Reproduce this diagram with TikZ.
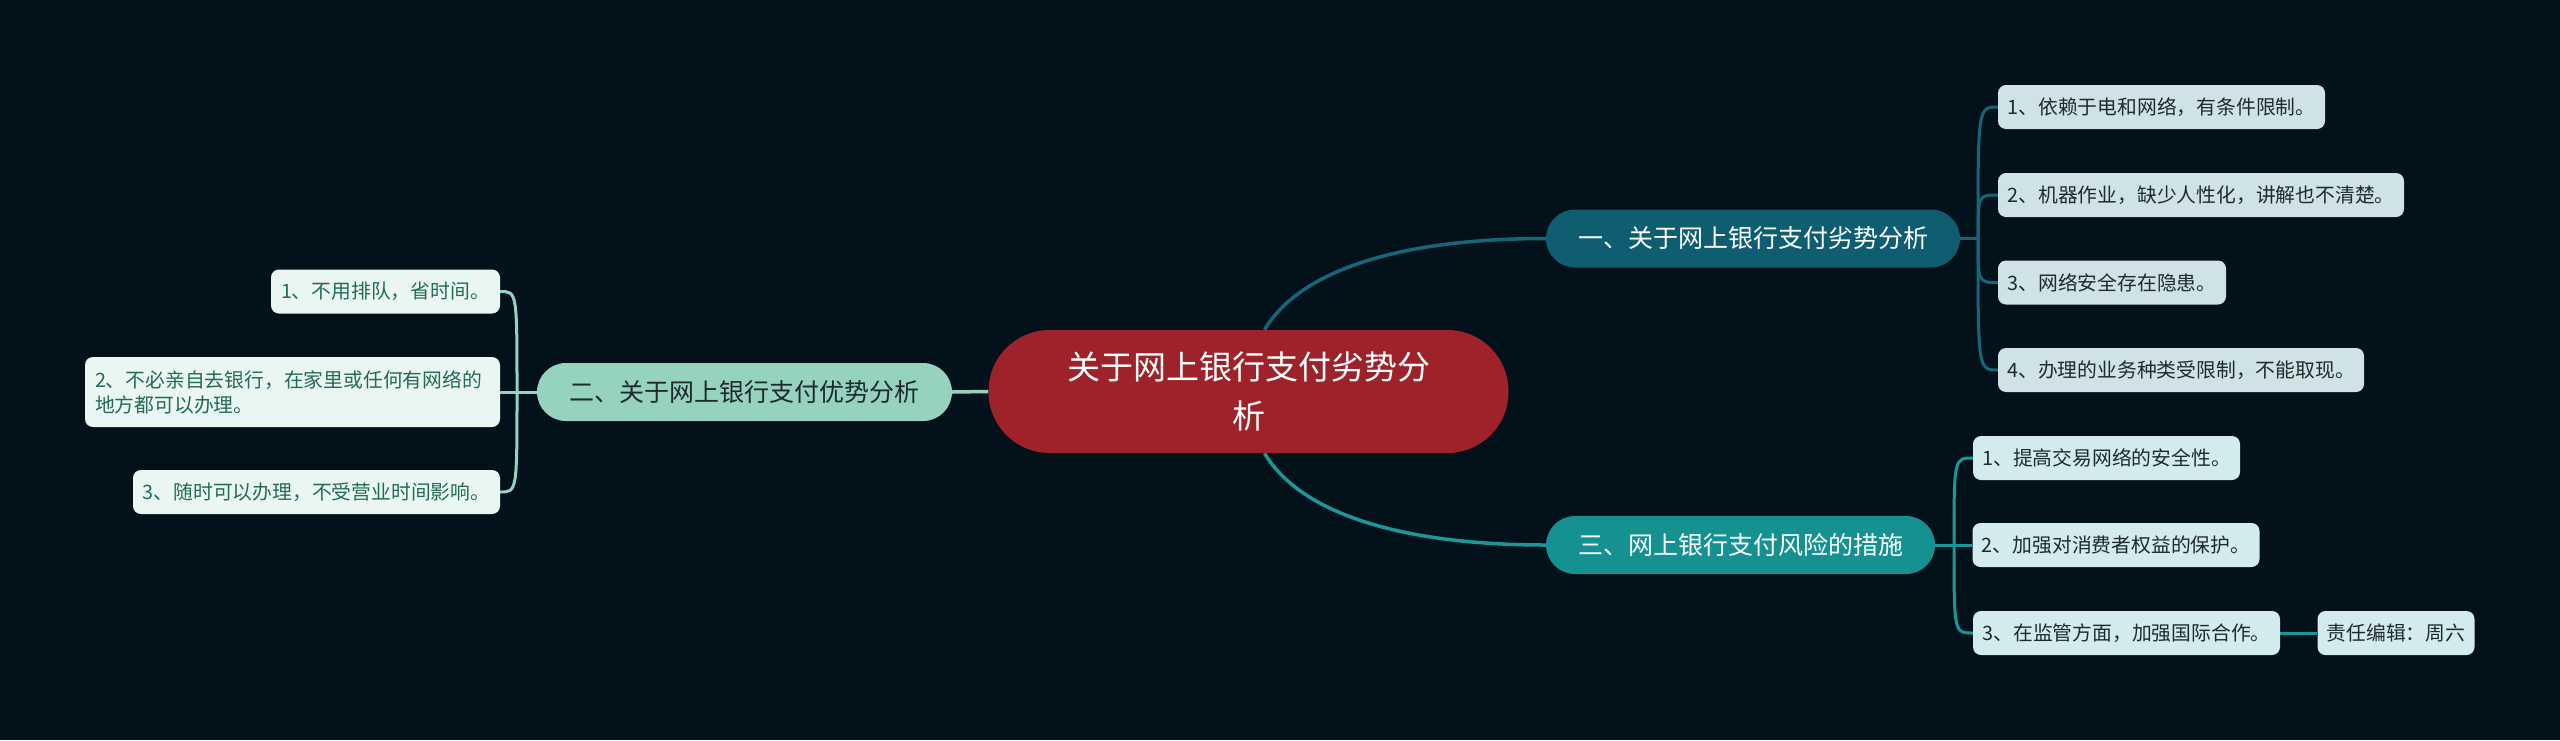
\documentclass[tikz,border=0pt]{standalone}
\usepackage{fontspec}
\newfontfamily\cjk{Noto Sans CJK SC}
\pgfdeclarelayer{bg}
\pgfdeclarelayer{edges}
\pgfsetlayers{bg,edges,main}
\definecolor{bgc}{HTML}{03111A}
\definecolor{ctrc}{HTML}{9E2229}
\definecolor{onec}{HTML}{0E5D71}
\definecolor{onel}{HTML}{146678}
\definecolor{threec}{HTML}{149190}
\definecolor{threel}{HTML}{1A9898}
\definecolor{twoc}{HTML}{95D3BF}
\definecolor{twol}{HTML}{95D3BF}
\definecolor{leafa}{HTML}{CFE2E6}
\definecolor{leafb}{HTML}{D3EBEC}
\definecolor{leafc}{HTML}{E9F6F2}
\definecolor{darktxt}{HTML}{1E2A30}
\definecolor{greentxt}{HTML}{236B55}
\tikzset{
  ctrbox/.style={fill=ctrc, text=white, rounded corners=61pt, minimum width=520pt, minimum height=123pt, align=center, inner sep=0pt, font=\cjk\fontsize{33}{49}\selectfont},
  secbox/.style={rounded corners=29pt, minimum height=58pt, inner sep=0pt, font=\cjk\fontsize{25}{30}\selectfont},
  leafbox/.style={rounded corners=8pt, minimum height=44pt, inner sep=0pt, font=\cjk\fontsize{19.8}{25}\selectfont},
  mainline/.style={line width=3.5pt},
  brline/.style={line width=3pt}
}
\begin{document}
\begin{tikzpicture}[x=1pt,y=-1pt]
\useasboundingbox (0,0) rectangle (2560,740);
\begin{pgfonlayer}{bg}
\fill[bgc] (0,0) rectangle (2560,740);
\end{pgfonlayer}
% central
\node[ctrbox] (ctr) at (1248.5,391.5) {关于网上银行支付劣势分\\析};
% second level
\node[secbox, fill=onec, text=white, minimum width=414pt] (n1) at (1753,238.5) {一、关于网上银行支付劣势分析};
\node[secbox, fill=threec, text=white, minimum width=389pt] (n3) at (1740.5,545) {三、网上银行支付风险的措施};
\node[secbox, fill=twoc, text=darktxt, minimum width=415pt] (n2) at (744.5,392) {二、关于网上银行支付优势分析};
% group one leaves
\node[leafbox, fill=leafa, text=darktxt, minimum width=327pt] (a1) at (2161.5,107) {1、依赖于电和网络，有条件限制。};
\node[leafbox, fill=leafa, text=darktxt, minimum width=406pt] (a2) at (2201,195) {2、机器作业，缺少人性化，讲解也不清楚。};
\node[leafbox, fill=leafa, text=darktxt, minimum width=228pt] (a3) at (2112,282.5) {3、网络安全存在隐患。};
\node[leafbox, fill=leafa, text=darktxt, minimum width=366pt] (a4) at (2181,370) {4、办理的业务种类受限制，不能取现。};
% group three leaves
\node[leafbox, fill=leafb, text=darktxt, minimum width=267pt] (b1) at (2106.5,458) {1、提高交易网络的安全性。};
\node[leafbox, fill=leafb, text=darktxt, minimum width=287pt] (b2) at (2116,545) {2、加强对消费者权益的保护。};
\node[leafbox, fill=leafb, text=darktxt, minimum width=307pt] (b3) at (2126.5,633) {3、在监管方面，加强国际合作。};
\node[leafbox, fill=leafb, text=darktxt, minimum width=157pt] (b4) at (2396,633) {责任编辑：周六};
% left leaves
\node[leafbox, fill=leafc, text=greentxt, minimum width=229pt] (c1) at (385.5,291.5) {1、不用排队，省时间。};
\node[leafbox, fill=leafc, text=greentxt, minimum height=70pt, text width=395pt, align=left, inner xsep=10pt] (c2) at (292.5,392) {2、不必亲自去银行，在家里或任何有网络的\\地方都可以办理。};
\node[leafbox, fill=leafc, text=greentxt, minimum width=367pt] (c3) at (316.5,492) {3、随时可以办理，不受营业时间影响。};
% junctions
\coordinate (j1) at (1978,238.5);
\coordinate (j3) at (1954,545);
\coordinate (j2) at (517,392);
\begin{pgfonlayer}{edges}
\draw[mainline, onel] ([xshift=16pt]ctr.north) .. controls (1300,270) and (1400,238.5) .. (n1.west);
\draw[mainline, threel] ([xshift=16pt]ctr.south) .. controls (1300,513) and (1400,545) .. (n3.west);
\draw[mainline, twol] (ctr.west) -- (n2.east);
\draw[brline, onel] (n1.east) -- (j1);
\foreach \a in {a1,a2,a3,a4}{
  \draw[brline, onel] (j1) .. controls (j1 |- \a.west) .. (\a.west);
}
\draw[brline, threel] (n3.east) -- (j3);
\foreach \b in {b1,b2,b3}{
  \draw[brline, threel] (j3) .. controls (j3 |- \b.west) .. (\b.west);
}
\draw[brline, threel] (b3.east) -- (b4.west);
\draw[brline, twol] (n2.west) -- (j2);
\foreach \c in {c1,c2,c3}{
  \draw[brline, twol] (j2) .. controls (j2 |- \c.east) .. (\c.east);
}
\end{pgfonlayer}
\end{tikzpicture}
\end{document}
